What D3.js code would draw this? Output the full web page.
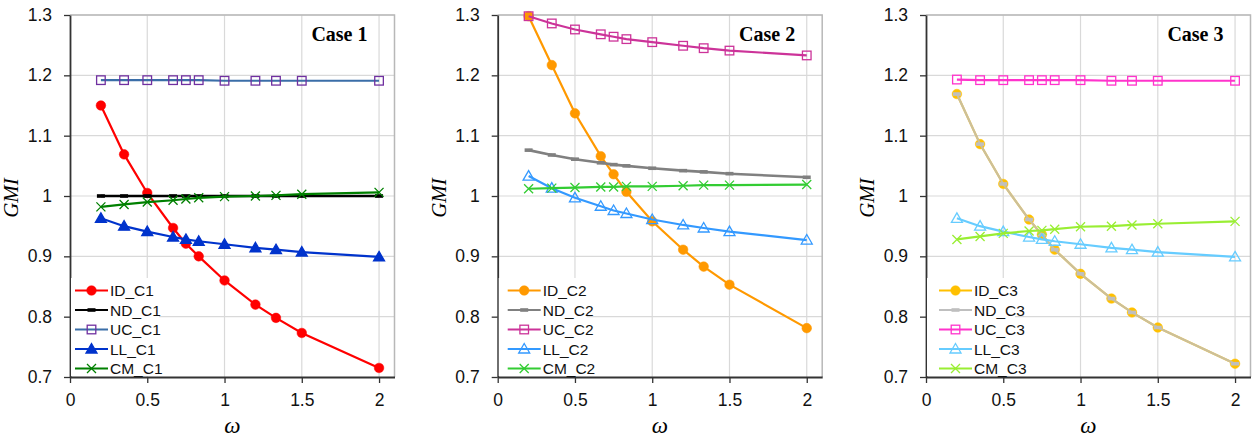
<!DOCTYPE html>
<html>
<head>
<meta charset="utf-8">
<script src="https://cdn.jsdelivr.net/npm/d3@7"></script>
<style>
  body { margin: 0; background: #fff; }
  svg { display: block; }
</style>
</head>
<body>
<div class="chart"></div>
<script>
// omega values shared by all series
const omega = [0.2, 0.35, 0.5, 0.667, 0.75, 0.833, 1, 1.2, 1.333, 1.5, 2];

// Case 1
const id_c1 = [1.150, 1.069, 1.005, 0.947, 0.921, 0.900, 0.860, 0.820, 0.798, 0.773, 0.715];
const nd_c1 = [1.000, 1.000, 1.000, 1.000, 1.000, 1.000, 1.000, 1.000, 1.000, 1.000, 1.000];
const uc_c1 = [1.192, 1.192, 1.192, 1.192, 1.192, 1.192, 1.191, 1.191, 1.191, 1.191, 1.191];
const ll_c1 = [0.963, 0.950, 0.941, 0.932, 0.928, 0.925, 0.920, 0.914, 0.911, 0.907, 0.899];
const cm_c1 = [0.982, 0.986, 0.990, 0.993, 0.995, 0.997, 0.999, 1.000, 1.001, 1.003, 1.006];

// Case 2
const id_c2 = [1.298, 1.217, 1.137, 1.066, 1.036, 1.007, 0.958, 0.911, 0.883, 0.853, 0.781];
const nd_c2 = [1.076, 1.068, 1.061, 1.055, 1.052, 1.050, 1.046, 1.042, 1.040, 1.037, 1.031];
const uc_c2 = [1.298, 1.286, 1.276, 1.268, 1.264, 1.260, 1.255, 1.249, 1.245, 1.241, 1.233];
const ll_c2 = [1.033, 1.013, 0.997, 0.983, 0.976, 0.971, 0.961, 0.952, 0.947, 0.941, 0.927];
const cm_c2 = [1.012, 1.013, 1.014, 1.015, 1.015, 1.016, 1.016, 1.017, 1.018, 1.018, 1.019];

// Case 3
const id_c3 = [1.169, 1.086, 1.020, 0.961, 0.936, 0.911, 0.871, 0.830, 0.807, 0.782, 0.722];
const nd_c3 = [1.169, 1.086, 1.020, 0.961, 0.936, 0.911, 0.871, 0.830, 0.807, 0.782, 0.722];
const uc_c3 = [1.193, 1.192, 1.192, 1.192, 1.192, 1.192, 1.192, 1.191, 1.191, 1.191, 1.191];
const ll_c3 = [0.963, 0.950, 0.941, 0.932, 0.928, 0.925, 0.920, 0.914, 0.911, 0.907, 0.899];
const cm_c3 = [0.928, 0.933, 0.938, 0.942, 0.943, 0.945, 0.949, 0.950, 0.952, 0.954, 0.958];

const yTicks = [0.7, 0.8, 0.9, 1, 1.1, 1.2, 1.3];
const xTicks = [0, 0.5, 1, 1.5, 2];
const seriesNames = ['ID', 'ND', 'UC', 'LL', 'CM'];

const width = 1255, height = 439;
const plotW = 324.5, plotTop = 15, plotBottom = 377;

const panels = [
  { left: 70, title: 'Case 1', tag: 'C1', values: [id_c1, nd_c1, uc_c1, ll_c1, cm_c1],
    lines: ['#ff0000', '#000000', '#3b6ea8', '#0033cc', '#008000'],
    marks: ['#ff0000', '#000000', '#7030a0', '#0033cc', '#008000'],
    fills: [true, true, false, true, false], legX: 5 },
  { left: 497.7, title: 'Case 2', tag: 'C2', values: [id_c2, nd_c2, uc_c2, ll_c2, cm_c2],
    lines: ['#ff9900', '#808080', '#cc3399', '#3399ff', '#33cc33'],
    marks: ['#ff9900', '#808080', '#cc3399', '#3399ff', '#33cc33'],
    fills: [true, true, false, false, false], legX: 10 },
  { left: 926, title: 'Case 3', tag: 'C3', values: [id_c3, nd_c3, uc_c3, ll_c3, cm_c3],
    lines: ['#ffc000', '#bfbfbf', '#ff33cc', '#66ccff', '#99ee33'],
    marks: ['#ffc000', '#bfbfbf', '#ff33cc', '#66ccff', '#99ee33'],
    fills: [true, true, false, false, false], legX: 13 }
];

const shapes = ['circle', 'dash', 'square', 'triangle', 'cross'];

const svg = d3.select('.chart').append('svg')
  .attr('width', width).attr('height', height)
  .attr('viewBox', '0 0 ' + width + ' ' + height);

// draws one marker of the given kind into holder, centred at (cx, cy)
function marker(holder, kind, cx, cy, color, filled) {
  if (kind === 'circle') {
    holder.append('circle').attr('cx', cx).attr('cy', cy).attr('r', 4.8)
      .attr('fill', color).attr('stroke', color).attr('stroke-width', 0.5);
  } else if (kind === 'dash') {
    holder.append('rect').attr('x', cx - 4).attr('y', cy - 1.8).attr('width', 8).attr('height', 3.6)
      .attr('fill', color);
  } else if (kind === 'square') {
    holder.append('rect').attr('x', cx - 4.3).attr('y', cy - 4.3).attr('width', 8.6).attr('height', 8.6)
      .attr('fill', filled ? color : '#fff').attr('fill-opacity', filled ? 1 : 0)
      .attr('stroke', color).attr('stroke-width', 1.3);
  } else if (kind === 'triangle') {
    holder.append('path')
      .attr('d', 'M' + cx + ',' + (cy - 5.5) + 'L' + (cx + 5.5) + ',' + (cy + 4) + 'L' + (cx - 5.5) + ',' + (cy + 4) + 'Z')
      .attr('fill', filled ? color : 'none').attr('stroke', color).attr('stroke-width', 1.3);
  } else if (kind === 'cross') {
    holder.append('path')
      .attr('d', 'M' + (cx - 4.5) + ',' + (cy - 4.5) + 'L' + (cx + 4.5) + ',' + (cy + 4.5) +
                 'M' + (cx + 4.5) + ',' + (cy - 4.5) + 'L' + (cx - 4.5) + ',' + (cy + 4.5))
      .attr('stroke', color).attr('stroke-width', 1.3).attr('fill', 'none');
  }
}

panels.forEach(function(p, pi) {
  const x = d3.scaleLinear().domain([0, 2.1]).range([p.left, p.left + plotW]);
  const y = d3.scaleLinear().domain([0.7, 1.3]).range([plotBottom, plotTop]);
  const g = svg.append('g').attr('class', 'panel');

  // grid
  g.append('g').selectAll('line.hgrid')
    .data(yTicks.slice(1))
    .enter().append('line')
    .attr('x1', x(0)).attr('x2', x(2.1))
    .attr('y1', d => y(d)).attr('y2', d => y(d))
    .attr('stroke', '#d9d9d9').attr('stroke-width', 1.2);
  g.append('g').selectAll('line.vgrid')
    .data(xTicks.slice(1))
    .enter().append('line')
    .attr('x1', d => x(d)).attr('x2', d => x(d))
    .attr('y1', y(0.7)).attr('y2', y(1.3))
    .attr('stroke', '#d9d9d9').attr('stroke-width', 1.2);

  // top / right frame
  g.append('path')
    .attr('d', 'M' + x(0) + ',' + y(1.3) + 'H' + x(2.1) + 'V' + y(0.7))
    .attr('fill', 'none').attr('stroke', '#b8b8b8').attr('stroke-width', 1.5);

  // axes
  const yAxis = g.append('g').attr('transform', 'translate(' + x(0) + ',0)')
    .call(d3.axisLeft(y).tickValues(yTicks).tickFormat(d => String(d))
      .tickSizeInner(6).tickSizeOuter(0).tickPadding(12));
  const xAxis = g.append('g').attr('transform', 'translate(0,' + y(0.7) + ')')
    .call(d3.axisBottom(x).tickValues(xTicks).tickFormat(d => String(d))
      .tickSizeInner(6).tickSizeOuter(0).tickPadding(11));
  [yAxis, xAxis].forEach(function(a) {
    a.select('.domain').attr('stroke', '#333').attr('stroke-width', 1.8);
    a.selectAll('.tick line').attr('stroke', '#333').attr('stroke-width', 1.3);
    a.selectAll('.tick text').attr('fill', '#111')
      .style('font-family', '"Liberation Sans", Arial, sans-serif').style('font-size', '17.5px');
  });

  // series
  const line = d3.line().x((d, i) => x(omega[i])).y(d => y(d));
  p.values.forEach(function(vals, si) {
    const sg = g.append('g').attr('class', 'series');
    sg.append('path').datum(vals)
      .attr('d', line)
      .attr('fill', 'none')
      .attr('stroke', p.lines[si])
      .attr('stroke-width', si === 1 && pi < 2 ? 2.6 : 2.2)
      .attr('stroke-opacity', si === 1 && pi === 2 ? 0.8 : 1);
    vals.forEach(function(v, i) {
      marker(sg, shapes[si], x(omega[i]), y(v), p.marks[si], p.fills[si]);
    });
  });

  // case title
  g.append('text')
    .attr('x', x(2.1) - 27).attr('y', 41)
    .attr('text-anchor', 'end')
    .style('font-family', '"Liberation Serif", "Times New Roman", serif')
    .style('font-weight', 'bold').style('font-size', '20px')
    .text(p.title);

  // legend
  const lg = g.append('g').attr('class', 'legend');
  lg.append('rect')
    .attr('x', x(0) + 1).attr('y', 278)
    .attr('width', 88).attr('height', y(0.7) - 279)
    .attr('fill', '#fff');
  seriesNames.forEach(function(name, si) {
    const ly = 290.5 + si * 19.5;
    const lx0 = x(0) + p.legX, lx1 = lx0 + 33;
    lg.append('line')
      .attr('x1', lx0).attr('x2', lx1).attr('y1', ly).attr('y2', ly)
      .attr('stroke', p.lines[si]).attr('stroke-width', 2.2);
    marker(lg, shapes[si], (lx0 + lx1) / 2, ly, p.marks[si], p.fills[si]);
    lg.append('text')
      .attr('x', lx1 + 2).attr('y', ly + 5.5)
      .style('font-family', '"Liberation Sans", Arial, sans-serif')
      .style('font-size', '15.5px').attr('fill', '#111')
      .text(name + '_' + p.tag);
  });

  // axis titles
  g.append('text')
    .attr('transform', 'translate(' + (p.left - 52) + ',' + 198 + ') rotate(-90)')
    .attr('text-anchor', 'middle')
    .style('font-family', '"Liberation Serif", "Times New Roman", serif')
    .style('font-style', 'italic').style('font-size', '21px')
    .text('GMI');
  g.append('text')
    .attr('x', (x(0) + x(2.1)) / 2).attr('y', 433)
    .attr('text-anchor', 'middle')
    .style('font-family', '"Liberation Serif", "Times New Roman", serif')
    .style('font-style', 'italic').style('font-size', '23px')
    .text('ω');
});
</script>
</body>
</html>
